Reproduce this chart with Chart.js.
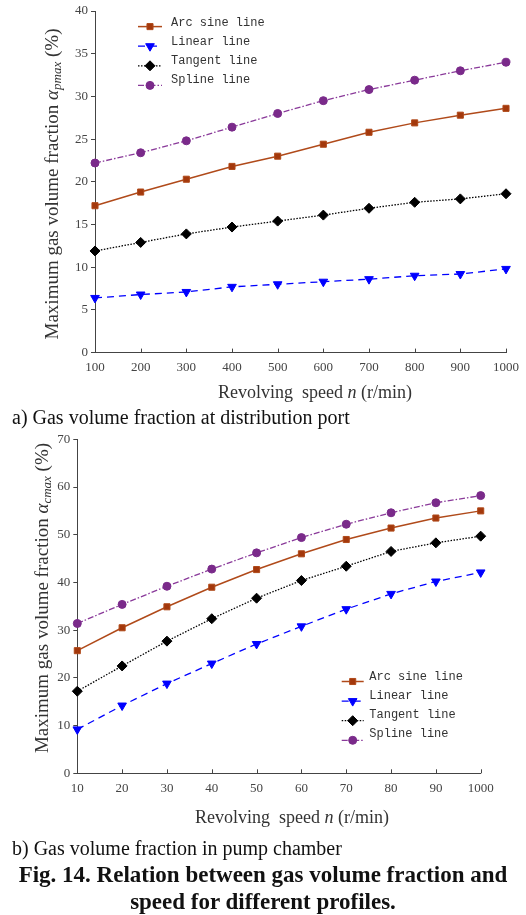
<!DOCTYPE html>
<html>
<head>
<meta charset="utf-8">
<script src="https://cdn.jsdelivr.net/npm/chart.js@4.4.0/dist/chart.umd.min.js"></script>
<style>
body { margin: 0; background: #fff; }
#page { position: relative; width: 526px; height: 915px; font-family: 'Liberation Serif', serif; color: #222; }
.box { position: absolute; left: 0; width: 526px; height: 400px; }
.ytitle, .xtitle { position: absolute; white-space: nowrap; line-height: 20px; color: #333; }
.ytitle { font-size: 19px; transform: translate(-50%, -50%) rotate(-90deg); }
.xtitle { font-size: 18px; transform: translate(-50%, -50%); }
sub { font-size: 13px; vertical-align: -3px; line-height: 0; }
.cap { position: absolute; left: 12px; font-size: 20px; line-height: 22px; color: #111; }
.fig { position: absolute; left: 0; width: 526px; top: 861px; text-align: center; font-weight: bold; font-size: 23px; line-height: 27px; color: #111; }
</style>
</head>
<body>
<div id="page">
  <div class="box" style="top:0"><canvas id="chartA"></canvas></div>
  <div class="box" style="top:420px"><canvas id="chartB"></canvas></div>
  <div class="ytitle" style="left:52px; top:184px">Maximum gas volume fraction <i>α<sub>pmax</sub></i> (%)</div>
  <div class="xtitle" style="left:315px; top:392px">Revolving&nbsp; speed <i>n</i> (r/min)</div>
  <div class="cap" style="top:406px">a) Gas volume fraction at distribution port</div>
  <div class="ytitle" style="left:42px; top:598px">Maximum gas volume fraction <i>α<sub>cmax</sub></i> (%)</div>
  <div class="xtitle" style="left:292px; top:817px">Revolving&nbsp; speed <i>n</i> (r/min)</div>
  <div class="cap" style="top:837px">b) Gas volume fraction in pump chamber</div>
  <div class="fig">Fig. 14. Relation between gas volume fraction and<br>speed for different profiles.</div>
</div>
<script>
// a) distribution port
const speedsA = ['100', '200', '300', '400', '500', '600', '700', '800', '900', '1000'];
const arcA = [17.2, 18.8, 20.3, 21.8, 23.0, 24.4, 25.8, 26.9, 27.8, 28.6];
const linA = [6.4, 6.8, 7.1, 7.7, 8.0, 8.3, 8.6, 9.0, 9.2, 9.8];
const tanA = [11.9, 12.9, 13.9, 14.7, 15.4, 16.1, 16.9, 17.6, 18.0, 18.6];
const splA = [22.2, 23.4, 24.8, 26.4, 28.0, 29.5, 30.8, 31.9, 33.0, 34.0];

// b) pump chamber
const speedsB = ['10', '20', '30', '40', '50', '60', '70', '80', '90', '1000'];
const arcB = [25.7, 30.5, 34.9, 39.0, 42.7, 46.0, 49.0, 51.4, 53.5, 55.0];
const linB = [9.2, 14.2, 18.8, 23.0, 27.1, 30.8, 34.4, 37.6, 40.2, 42.1];
const tanB = [17.2, 22.5, 27.7, 32.4, 36.7, 40.4, 43.4, 46.5, 48.3, 49.7];
const splB = [31.4, 35.4, 39.2, 42.8, 46.2, 49.4, 52.2, 54.6, 56.7, 58.2];

const seriesNames = ['Arc sine line', 'Linear line', 'Tangent line', 'Spline line'];

const axisColor = '#444';
const tickFont = { family: 'Liberation Serif', size: 13 };

function datasets(arc, lin, tan, spl) {
  return [
    { label: seriesNames[0], data: arc, borderColor: '#B04A1A', borderWidth: 1.5, borderDash: [],
      pointStyle: 'rect', pointRadius: 4.3, pointBackgroundColor: '#A3380C', pointBorderColor: '#B04A1A' },
    { label: seriesNames[1], data: lin, borderColor: '#0000FF', borderWidth: 1.3, borderDash: [7, 5],
      pointStyle: 'triangle', pointRotation: 180, pointRadius: 5, pointBackgroundColor: '#0000FF', pointBorderColor: '#0000FF' },
    { label: seriesNames[2], data: tan, borderColor: '#000', borderWidth: 1.3, borderDash: [1.5, 1.5],
      pointStyle: 'rectRot', pointRadius: 5, pointBackgroundColor: '#000', pointBorderColor: '#000' },
    { label: seriesNames[3], data: spl, borderColor: '#8A3A9A', borderWidth: 1.3, borderDash: [6, 2, 1.5, 2],
      pointStyle: 'circle', pointRadius: 4, pointBackgroundColor: '#7A2A8A', pointBorderColor: '#7A2A8A' }
  ].map(d => Object.assign(d, { tension: 0, clip: false, fill: false, pointBorderWidth: 1 }));
}

// x tick marks pointing up + legend with line samples
const decor = {
  id: 'decor',
  afterDraw(chart, args, opts) {
    const ctx = chart.ctx;
    const x = chart.scales.x, y = chart.scales.y;
    ctx.save();
    ctx.strokeStyle = axisColor;
    ctx.lineWidth = 1;
    x.ticks.forEach((t, i) => {
      const px = Math.round(x.getPixelForTick(i)) + 0.5;
      ctx.beginPath();
      ctx.moveTo(px, y.bottom);
      ctx.lineTo(px, y.bottom - 4);
      ctx.stroke();
    });
    chart.data.datasets.forEach((ds, i) => {
      const ty = opts.y + i * opts.gap;
      const sy = ty + opts.drop + i * 0.6;
      ctx.setLineDash(ds.borderDash);
      ctx.strokeStyle = ds.borderColor;
      ctx.lineWidth = ds.borderWidth;
      ctx.beginPath();
      ctx.moveTo(opts.x, sy);
      ctx.lineTo(opts.x + opts.w, sy);
      ctx.stroke();
      ctx.setLineDash([]);
      ctx.fillStyle = ds.pointBackgroundColor;
      ctx.strokeStyle = ds.pointBorderColor;
      ctx.lineWidth = 1;
      Chart.helpers.drawPoint(ctx, { pointStyle: ds.pointStyle, radius: ds.pointRadius,
        rotation: ds.pointRotation || 0, borderWidth: 1 }, opts.x + opts.w / 2, sy);
      ctx.fillStyle = '#333';
      ctx.font = '12px "Liberation Mono"';
      ctx.textBaseline = 'middle';
      ctx.textAlign = 'left';
      ctx.fillText(ds.label, opts.x + opts.tx, ty);
    });
    ctx.restore();
  }
};

function makeChart(id, labels, sets, yMax, yStep, yWidth, pad, legend) {
  return new Chart(document.getElementById(id), {
    type: 'line',
    data: { labels: labels, datasets: sets },
    plugins: [decor],
    options: {
      responsive: true,
      maintainAspectRatio: false,
      animation: false,
      layout: { padding: pad },
      plugins: {
        legend: { display: false },
        tooltip: { enabled: false },
        decor: legend
      },
      scales: {
        x: {
          offset: false,
          grid: { display: false, drawTicks: false },
          border: { color: axisColor, width: 1 },
          ticks: { font: tickFont, color: axisColor, padding: 7, maxRotation: 0, autoSkip: false },
          afterFit: s => { s.height = 30; }
        },
        y: {
          min: 0, max: yMax,
          grid: { drawOnChartArea: false, tickLength: 4, color: axisColor },
          border: { color: axisColor, width: 1 },
          ticks: { stepSize: yStep, font: tickFont, color: axisColor, padding: 3 },
          afterFit: s => { s.width = yWidth; }
        }
      }
    }
  });
}

makeChart('chartA', speedsA, datasets(arcA, linA, tanA, splA), 40, 5, 95,
  { left: 0, right: 17, top: 11, bottom: 17.4 },
  { x: 138, y: 23.3, gap: 19, w: 24, tx: 33, drop: 3.3 });

makeChart('chartB', speedsB, datasets(arcB, linB, tanB, splB), 70, 10, 77.3,
  { left: 0, right: 45.3, top: 19.3, bottom: 16.7 },
  { x: 341.7, y: 257, gap: 19, w: 22, tx: 27.6, drop: 4.5 });
</script>
</body>
</html>
